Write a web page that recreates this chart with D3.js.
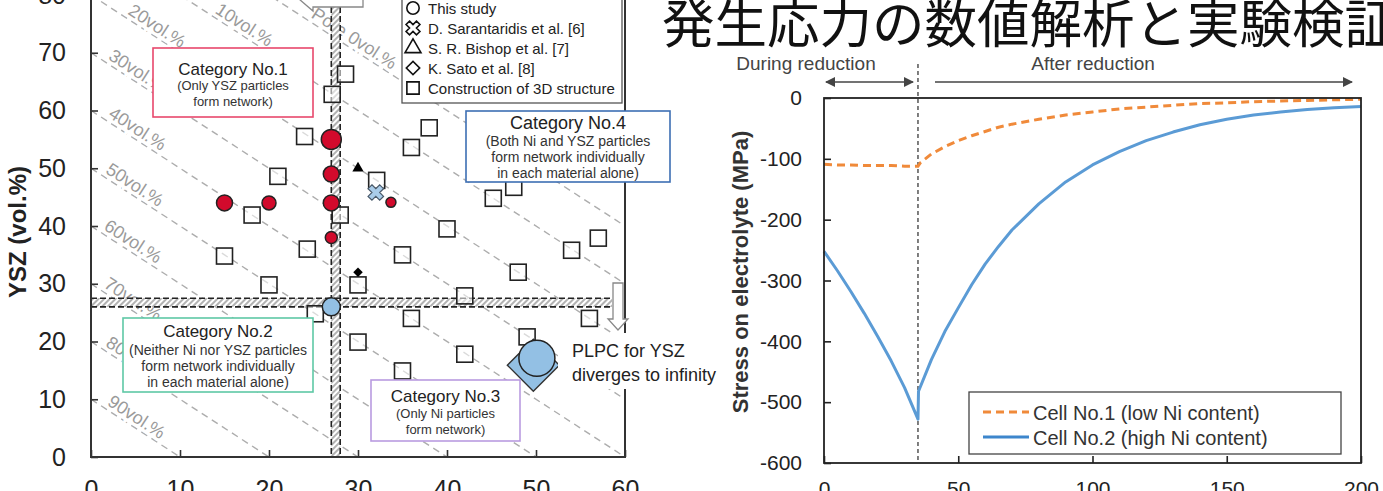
<!DOCTYPE html>
<html lang="ja">
<head>
<meta charset="UTF-8">
<script src="https://d3js.org/d3.v7.min.js"></script>
<style>
  body { margin: 0; background: #fff; font-family: "Liberation Sans", Arial, sans-serif; }
  svg { display: block; }
  .tick text { fill: #222; }
</style>
</head>
<body>
<svg id="chart"></svg>
<script>
// ---------- left chart: Ni (vol.%) vs YSZ (vol.%) ----------
const poreLevels = [0, 10, 20, 30, 40, 50, 60, 70, 80, 90];
const poreLabelText = ["Pore 0vol.%", "10vol.%", "20vol.%", "30vol.%", "40vol.%", "50vol.%", "60vol.%", "70vol.%", "80vol.%", "90vol.%"];
const poreLabelNi = [24.4, 13.6, 3.8, 1.6, 1.6, 1.3, 1.1, 1.1, 1.3, 1.5];

const squareNi  = [28.6, 27.1, 24.0, 21.0, 18.1, 28.0, 38.0, 36.0, 32.1, 45.2, 47.5, 40.0, 35.0, 54.0, 57.0, 48.0, 42.0, 24.3, 15.0, 20.0, 30.0, 25.2, 36.0, 30.0, 42.0, 49.0, 56.0, 35.0];
const squareYSZ = [66.3, 62.8, 55.5, 48.6, 41.9, 41.9, 57.0, 53.6, 47.9, 44.8, 46.7, 39.5, 35.0, 35.8, 37.9, 32.0, 27.9, 36.0, 34.8, 29.8, 29.8, 24.8, 24.0, 19.9, 17.8, 20.8, 24.0, 14.9];

// This study (circles)
const studyNi    = [27, 27, 27, 27, 15, 20, 33.7, 27, 50.1];
const studyYSZ   = [55, 49, 44, 38, 44, 44, 44.1, 26, 17.1];
const studyR     = [10, 8, 8, 6, 8, 7, 5, 9, 18];
const studyColor = ["red", "red", "red", "red", "red", "red", "red", "blue", "blue"];

// other references
const sarantaridis = [32, 45.8];
const bishop = [30, 50];
const sato = [30, 32];
const satoBig = [49.7, 15.9];   // blue diamond behind the big circle

const bandNi = [27, 28];
const bandYSZ = [26, 27.5];

const legendItems = ["This study", "D. Sarantaridis et al. [6]", "S. R. Bishop et al. [7]", "K. Sato et al. [8]", "Construction of 3D structure"];

const categories = [
  { title: "Category No.1", sub: ["(Only YSZ particles", "form network)"], color: "#e8486c" },
  { title: "Category No.2", sub: ["(Neither Ni nor YSZ particles", "form network individually", "in each material alone)"], color: "#5ec8a6" },
  { title: "Category No.3", sub: ["(Only Ni particles", "form network)"], color: "#b99be0" },
  { title: "Category No.4", sub: ["(Both Ni and YSZ particles", "form network individually", "in each material alone)"], color: "#3d6fb3" }
];

// ---------- right chart: stress on electrolyte ----------
const cell1T = [0, 5, 10, 15, 20, 25, 30, 35, 36, 40, 45, 50, 55, 60, 65, 70, 80, 90, 100, 110, 120, 130, 140, 150, 160, 170, 180, 190, 200];
const cell1V = [-109, -110, -110, -111, -111, -111, -112, -112, -106, -92, -80, -70, -62, -55, -48, -43, -35, -28, -23, -18, -15, -12, -9, -8, -6, -5, -4, -3, -2];
const cell2T = [0, 5, 10, 15, 20, 25, 30, 35, 35.2, 40, 45, 50, 55, 60, 65, 70, 80, 90, 100, 110, 120, 130, 140, 150, 160, 170, 180, 190, 200];
const cell2V = [-252, -284, -318, -354, -392, -432, -476, -528, -482, -430, -384, -345, -307, -273, -244, -217, -174, -138, -110, -88, -70, -56, -44, -35, -28, -23, -19, -16, -14];
const reductionEnd = 35;
const seriesNames = ["Cell No.1 (low Ni content)", "Cell No.2 (high Ni content)"];

const W = 1383, H = 491;
const svg = d3.select("#chart").attr("width", W).attr("height", H);
const defs = svg.append("defs");

const hatch = defs.append("pattern").attr("id", "hatch")
  .attr("patternUnits", "userSpaceOnUse").attr("width", 4).attr("height", 4)
  .attr("patternTransform", "rotate(45)");
hatch.append("rect").attr("width", 4).attr("height", 4).attr("fill", "#fff");
hatch.append("line").attr("x1", 1).attr("y1", 0).attr("x2", 1).attr("y2", 4)
  .attr("stroke", "#999").attr("stroke-width", 1.5);

// ================= LEFT =================
const x = d3.scaleLinear().domain([0, 60]).range([91, 625]);
const y = d3.scaleLinear().domain([0, 80]).range([457, -5]);

defs.append("clipPath").attr("id", "clipL").append("rect")
  .attr("x", x(0)).attr("y", -20).attr("width", x(60) - x(0)).attr("height", y(0) + 20);

const left = svg.append("g");
const plotL = left.append("g").attr("clip-path", "url(#clipL)");

// iso-porosity lines
plotL.selectAll(".iso").data(poreLevels).enter().append("line")
  .attr("x1", p => x(0)).attr("y1", p => y(100 - p))
  .attr("x2", p => x(100 - p)).attr("y2", p => y(0))
  .attr("stroke", "#adadad").attr("stroke-width", 1.4).attr("stroke-dasharray", "7,5");

const ang = Math.atan2(y(0) - y(1), x(1) - x(0)) * 180 / Math.PI;
plotL.selectAll(".isoLabel").data(poreLevels).enter().append("text")
  .attr("transform", (p, i) => {
    const n = poreLabelNi[i];
    return `translate(${x(n)},${y(100 - p - n)}) rotate(${ang})`;
  })
  .attr("y", -4)
  .attr("font-size", 18).attr("fill", "#9a9a9a")
  .attr("stroke", "#fff").attr("stroke-width", 6).attr("paint-order", "stroke")
  .text((p, i) => poreLabelText[i]);

// threshold bands
plotL.append("rect").attr("x", x(0)).attr("y", y(bandYSZ[1]))
  .attr("width", 612 - x(0)).attr("height", y(bandYSZ[0]) - y(bandYSZ[1]))
  .attr("fill", "url(#hatch)");
plotL.append("rect").attr("x", x(bandNi[0])).attr("y", -20)
  .attr("width", x(bandNi[1]) - x(bandNi[0])).attr("height", y(0) + 20)
  .attr("fill", "url(#hatch)");
bandYSZ.forEach(v => {
  plotL.append("line").attr("x1", x(0)).attr("x2", 612).attr("y1", y(v)).attr("y2", y(v))
    .attr("stroke", "#222").attr("stroke-width", 1.6).attr("stroke-dasharray", "6,3");
});
bandNi.forEach(v => {
  plotL.append("line").attr("x1", x(v)).attr("x2", x(v)).attr("y1", -20).attr("y2", y(0))
    .attr("stroke", "#222").attr("stroke-width", 1.6).attr("stroke-dasharray", "6,3");
});

// squares
plotL.selectAll(".sq").data(squareNi).enter().append("rect")
  .attr("x", (d, i) => x(d) - 8).attr("y", (d, i) => y(squareYSZ[i]) - 8)
  .attr("width", 16).attr("height", 16)
  .attr("fill", "rgba(255,255,255,0.55)").attr("stroke", "#222").attr("stroke-width", 1.6);

const blueFill = "#93c0e4", redFill = "#d20a2c";

// big blue diamond
plotL.append("path").attr("d", d3.symbol(d3.symbolSquare, 2 * 26 * 26)())
  .attr("transform", `translate(${x(satoBig[0])},${y(satoBig[1])}) rotate(45)`)
  .attr("fill", blueFill).attr("stroke", "#333").attr("stroke-width", 1.4);

// this study
plotL.selectAll(".st").data(studyNi).enter().append("circle")
  .attr("cx", d => x(d)).attr("cy", (d, i) => y(studyYSZ[i])).attr("r", (d, i) => studyR[i])
  .attr("fill", (d, i) => studyColor[i] === "red" ? redFill : blueFill)
  .attr("stroke", "#222").attr("stroke-width", 1.5);

// Sarantaridis cross
plotL.append("path").attr("d", d3.symbol(d3.symbolCross, 150)())
  .attr("transform", `translate(${x(sarantaridis[0])},${y(sarantaridis[1])}) rotate(45)`)
  .attr("fill", "#a9cce9").attr("stroke", "#4a5a6a").attr("stroke-width", 1.2);
// Bishop triangle
plotL.append("path").attr("d", d3.symbol(d3.symbolTriangle, 55)())
  .attr("transform", `translate(${x(bishop[0])},${y(bishop[1])})`).attr("fill", "#000");
// Sato diamond
plotL.append("path").attr("d", d3.symbol(d3.symbolSquare, 45)())
  .attr("transform", `translate(${x(sato[0])},${y(sato[1])}) rotate(45)`).attr("fill", "#000");

// axes
const yAxL = left.append("g").attr("transform", `translate(${x(0)},0)`)
  .call(d3.axisLeft(y).tickValues(d3.range(0, 81, 10)).tickSizeInner(-7).tickSizeOuter(0).tickPadding(25));
const xAxL = left.append("g").attr("transform", `translate(0,${y(0)})`)
  .call(d3.axisBottom(x).tickValues(d3.range(0, 61, 10)).tickSizeInner(-7).tickSizeOuter(0).tickPadding(23));
[yAxL, xAxL].forEach(g => {
  g.select(".domain").remove();
  g.selectAll("line").attr("stroke", "#333").attr("stroke-width", 1.6);
  g.selectAll("text").attr("font-size", 25).attr("font-family", "Liberation Sans, Arial, sans-serif");
});
left.append("path")
  .attr("d", `M${x(0)},-20V${y(0)}H${x(60)}V-20`)
  .attr("fill", "none").attr("stroke", "#333").attr("stroke-width", 2);

left.append("text").attr("transform", `translate(26,232) rotate(-90)`)
  .attr("text-anchor", "middle").attr("font-size", 24).attr("font-weight", "bold").attr("fill", "#222")
  .text("YSZ (vol.%)");

// block arrows
left.append("path")
  .attr("d", "M299,-1 L313,-14 L313,-9 L363,-9 L363,7 L313,7 L313,11 Z")
  .attr("fill", "#fff").attr("stroke", "#888").attr("stroke-width", 1.3);
left.append("path")
  .attr("d", "M613,283 L623,283 L623,319 L628,319 L618,330 L608,319 L613,319 Z")
  .attr("fill", "#fff").attr("stroke", "#888").attr("stroke-width", 1.3);

// category boxes
const catBox = [[153, 48, 160, 69], [123, 318, 190, 74], [371, 380, 149, 61], [466, 111, 204, 71]];
const catTitle = [[75, 17], [337, 17], [402, 17], [129, 18]];
const catSubY = [[90, 106], [355, 371, 387], [418, 434], [146, 162, 178]];
const catSubSize = [13, 14, 13, 14];
categories.forEach((c, i) => {
  const [bx, by, bw, bh] = catBox[i];
  const g = left.append("g");
  g.append("rect").attr("x", bx).attr("y", by).attr("width", bw).attr("height", bh)
    .attr("fill", "#fff").attr("stroke", c.color).attr("stroke-width", 1.6);
  g.append("text").attr("x", bx + bw / 2).attr("y", catTitle[i][0])
    .attr("text-anchor", "middle").attr("font-size", catTitle[i][1]).attr("fill", "#222").text(c.title);
  c.sub.forEach((s, j) => {
    g.append("text").attr("x", bx + bw / 2).attr("y", catSubY[i][j])
      .attr("text-anchor", "middle").attr("font-size", catSubSize[i]).attr("fill", "#333").text(s);
  });
});

// legend
const lg = left.append("g");
lg.append("rect").attr("x", 402).attr("y", -10).attr("width", 220).attr("height", 113)
  .attr("fill", "#fff").attr("stroke", "#555").attr("stroke-width", 1.3);
const legSym = [
  d3.symbol(d3.symbolCircle, 120)(),
  d3.symbol(d3.symbolCross, 120)(),
  d3.symbol(d3.symbolTriangle, 110)(),
  d3.symbol(d3.symbolSquare, 90)(),
  d3.symbol(d3.symbolSquare, 150)()
];
const legRot = [0, 45, 0, 45, 0];
legendItems.forEach((t, i) => {
  const cy = 8 + i * 20;
  lg.append("path").attr("d", legSym[i]).attr("transform", `translate(413,${cy}) rotate(${legRot[i]})`)
    .attr("fill", "#fff").attr("stroke", "#111").attr("stroke-width", 1.6);
  lg.append("text").attr("x", 428).attr("y", cy + 5.5).attr("font-size", 15).attr("fill", "#222").text(t);
});

// PLPC note
left.append("rect").attr("x", 558).attr("y", 333).attr("width", 160).attr("height", 56).attr("fill", "#fff");
left.append("text").attr("x", 572).attr("y", 357).attr("font-size", 18).attr("fill", "#222").text("PLPC for YSZ");
left.append("text").attr("x", 572).attr("y", 381).attr("font-size", 18).attr("fill", "#222").text("diverges to infinity");

// ================= RIGHT =================
const x2 = d3.scaleLinear().domain([0, 200]).range([824, 1361]);
const y2 = d3.scaleLinear().domain([-600, 0]).range([463, 98]);
const right = svg.append("g");

const yAxR = right.append("g").attr("transform", `translate(${x2(0)},0)`)
  .call(d3.axisLeft(y2).tickValues(d3.range(-600, 1, 100)).tickFormat(d => String(d))
    .tickSizeInner(-7).tickSizeOuter(0).tickPadding(22));
const xAxR = right.append("g").attr("transform", `translate(0,${y2(-600)})`)
  .call(d3.axisBottom(x2).tickValues(d3.range(0, 201, 50)).tickSizeInner(-7).tickSizeOuter(0).tickPadding(18));
[yAxR, xAxR].forEach(g => {
  g.select(".domain").remove();
  g.selectAll("line").attr("stroke", "#222").attr("stroke-width", 1.6);
  g.selectAll("text").attr("font-size", 21).attr("font-family", "Liberation Sans, Arial, sans-serif");
});

right.append("line").attr("x1", x2(reductionEnd)).attr("x2", x2(reductionEnd))
  .attr("y1", 64).attr("y2", y2(-600))
  .attr("stroke", "#555").attr("stroke-width", 1.5).attr("stroke-dasharray", "4,3");

const line = d3.line().x(d => x2(d[0])).y(d => y2(d[1]));
right.append("path").datum(cell2T.map((t, i) => [t, cell2V[i]])).attr("d", line)
  .attr("fill", "none").attr("stroke", "#5b9bd5").attr("stroke-width", 3).attr("stroke-linejoin", "round");
right.append("path").datum(cell1T.map((t, i) => [t, cell1V[i]])).attr("d", line)
  .attr("fill", "none").attr("stroke", "#f08a3a").attr("stroke-width", 3).attr("stroke-dasharray", "8,5");

right.append("rect").attr("x", x2(0)).attr("y", y2(0)).attr("width", x2(200) - x2(0)).attr("height", y2(-600) - y2(0))
  .attr("fill", "none").attr("stroke", "#222").attr("stroke-width", 1.8);

right.append("text").attr("transform", `translate(748,272) rotate(-90)`)
  .attr("text-anchor", "middle").attr("font-size", 22).attr("font-weight", "bold").attr("fill", "#333")
  .text("Stress on electrolyte (MPa)");

// reduction annotations
defs.append("marker").attr("id", "ah").attr("viewBox", "0 0 10 10").attr("refX", 9).attr("refY", 5)
  .attr("markerWidth", 10).attr("markerHeight", 10).attr("markerUnits", "userSpaceOnUse").attr("orient", "auto-start-reverse")
  .append("path").attr("d", "M0,0 L10,5 L0,10 Z").attr("fill", "#444");
right.append("line").attr("x1", x2(0) + 2).attr("x2", x2(reductionEnd) - 5).attr("y1", 82).attr("y2", 82)
  .attr("stroke", "#444").attr("stroke-width", 1.6)
  .attr("marker-start", "url(#ah)").attr("marker-end", "url(#ah)");
right.append("line").attr("x1", 935).attr("x2", 1352).attr("y1", 82).attr("y2", 82)
  .attr("stroke", "#444").attr("stroke-width", 1.6).attr("marker-end", "url(#ah)");
right.append("text").attr("x", 806).attr("y", 70).attr("text-anchor", "middle")
  .attr("font-size", 19).attr("fill", "#444").text("During reduction");
right.append("text").attr("x", 1093).attr("y", 70).attr("text-anchor", "middle")
  .attr("font-size", 19).attr("fill", "#444").text("After reduction");

// legend
const lg2 = right.append("g");
lg2.append("rect").attr("x", 969).attr("y", 392).attr("width", 372).attr("height", 62)
  .attr("fill", "#fff").attr("stroke", "#444").attr("stroke-width", 1.3);
const legStroke = ["#f08a3a", "#3d86cc"], legDash = ["8,5", null];
seriesNames.forEach((s, i) => {
  const cy = 412 + i * 25;
  lg2.append("line").attr("x1", 983).attr("x2", 1029).attr("y1", cy).attr("y2", cy)
    .attr("stroke", legStroke[i]).attr("stroke-width", 3).attr("stroke-dasharray", legDash[i]);
  lg2.append("text").attr("x", 1033).attr("y", cy + 7.5).attr("font-size", 20).attr("fill", "#333").text(s);
});

// page title
svg.append("text").attr("x", 662).attr("y", 43)
  .attr("font-family", "Noto Sans CJK JP, sans-serif").attr("font-size", 52.5).attr("fill", "#111")
  .text("発生応力の数値解析と実験検証");
</script>
</body>
</html>
